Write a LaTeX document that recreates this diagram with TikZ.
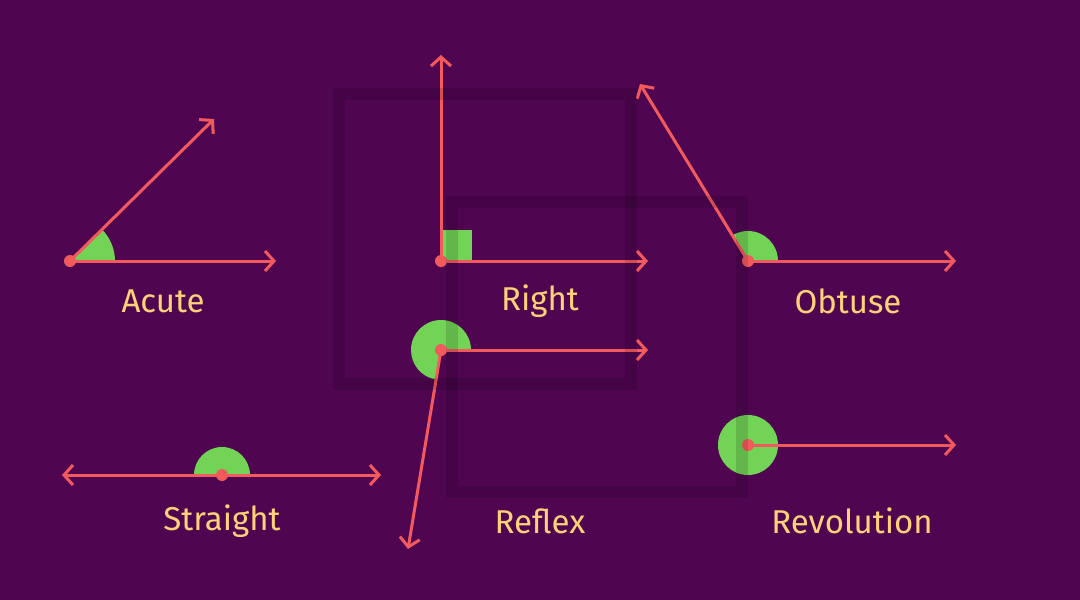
\documentclass[tikz,border=0pt]{standalone}
\usepackage{fontspec}
\setmainfont{Fira Sans}
\usetikzlibrary{arrows.meta}
\definecolor{bg}{HTML}{4F0550}
\definecolor{ray}{HTML}{F25A5E}
\definecolor{wedge}{HTML}{72D356}
\definecolor{lab}{HTML}{FFD27A}
\begin{document}
\begin{tikzpicture}[x=1pt,y=-1pt,
  arm/.style={draw=ray,line width=3pt,line cap=round,-{Straight Barb[length=9pt,width=20pt,line width=3pt]}},
  dot/.style={circle,fill=ray,inner sep=0pt,minimum size=12pt},
  lbl/.style={text=lab,font=\fontsize{33}{38}\selectfont},
  box/.style={draw=black,draw opacity=0.13,line width=12pt}]
\fill[bg] (0,0) rectangle (1080,600);
\useasboundingbox (0,0) rectangle (1080,600);
% wedges
\fill[wedge] (70,261) -- ++(45,0) arc[start angle=0,end angle=-44.6,radius=45] -- cycle;
\fill[wedge] (441,230) rectangle (472,261);
\fill[wedge] (748,261) -- ++(30,0) arc[start angle=0,end angle=-121.4,radius=30] -- cycle;
\fill[wedge] (441,350) -- ++(30,0) arc[start angle=0,end angle=-260.5,radius=30] -- cycle;
\fill[wedge] (222,475) -- ++(28,0) arc[start angle=0,end angle=-180,radius=28] -- cycle;
\fill[wedge] (748,445) circle[radius=30];
% vertices
\node[dot] (a) at (70,261) {};
\coordinate (a1) at (276,261); \coordinate (a2) at (214,119);
\node[dot] (r) at (441,261) {};
\coordinate (r1) at (648,261); \coordinate (r2) at (441,55);
\node[dot] (o) at (748,261) {};
\coordinate (o1) at (956,261); \coordinate (o2) at (640,84);
\node[dot] (x) at (441,350) {};
\coordinate (x1) at (648,350); \coordinate (x2) at (408,549);
\node[dot] (s) at (222,475) {};
\coordinate (s1) at (381,475); \coordinate (s2) at (62,475);
\node[dot] (v) at (748,445) {};
\coordinate (v1) at (956,445);
\foreach \p/\q in {a/a1,a/a2,r/r1,r/r2,o/o1,o/o2,x/x1,x/x2,s/s1,s/s2,v/v1}
  \draw[arm] (\p.center) -- (\q);
% overlay squares
\draw[box] (339,94) rectangle (631,384);
\draw[box] (452,202) rectangle (742,492);
% labels
\node[lbl] (la) at (163,301) {Acute};
\node[lbl] (lr) at (540,301) {Right};
\node[lbl] (lo) at (848,301) {Obtuse};
\node[lbl] (ls) at (222,521) {Straight};
\node[lbl] (lx) at (540,521) {Reflex};
\node[lbl] (lv) at (852,521) {Revolution};
\end{tikzpicture}
\end{document}
